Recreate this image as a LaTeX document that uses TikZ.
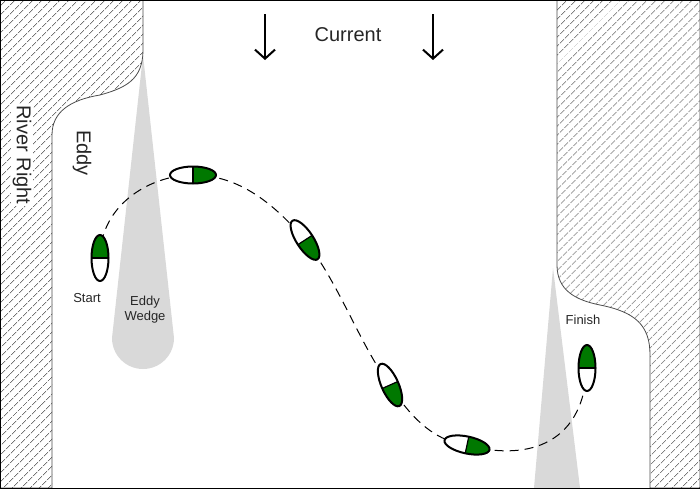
\documentclass[tikz,border=0pt]{standalone}
\usepackage{fontspec}
\setmainfont{Liberation Sans}
\usetikzlibrary{patterns.meta,arrows.meta}
\definecolor{boatgreen}{RGB}{0,120,0}
\newcommand\myboat[2]{%
  \begin{scope}[shift={(#1)},rotate=#2]
    \fill[white] (0,0) ellipse[x radius=23,y radius=8.5];
    \begin{scope}
      \clip (0,0) ellipse[x radius=23,y radius=8.5];
      \fill[boatgreen] (0,-10) rectangle (24,10);
    \end{scope}
    \draw[line width=2pt] (0,0) ellipse[x radius=23,y radius=8.5];
    \draw[line width=1.2pt] (0,-8.5) -- (0,8.5);
  \end{scope}}
\begin{document}
\begin{tikzpicture}[x=1pt,y=-1pt,
  bank/.style={draw=black!70,line width=0.8pt,pattern={Lines[angle=45,distance=6.5pt,line width=0.7pt]},pattern color=black!85},
  wedge/.style={fill=black!15,draw=none},
  lbl/.style={font=\fontsize{13}{15}\selectfont,text=black!85},
  path/.style={dash pattern=on 9pt off 6pt,line width=1pt},
  cur/.style={-{Straight Barb[length=9pt,width=20pt]},line width=2pt}]
\useasboundingbox (0,0) rectangle (700,488);
% wedges
\fill[wedge] (143,55) -- (174,338) arc[start angle=0,end angle=180,radius=31] -- cycle;
\fill[wedge] (553,268) -- (580,488) -- (534,488) -- cycle;
% banks
\path[bank] (0,0) -- (143,0) -- (143,50) .. controls (143,80) and (125,88) .. (100,95)
  .. controls (70,100) and (52,112) .. (52,135) -- (52,488) -- (0,488) -- cycle;
\path[bank] (700,0) -- (557,0) -- (557,265) .. controls (557,290) and (575,300) .. (600,305)
  .. controls (635,312) and (650,325) .. (650,355) -- (650,488) -- (700,488) -- cycle;
\draw[line width=0.8pt] (0,0) rectangle (700,488);
% labels
\node[fill=white,rotate=-90,inner sep=2pt,font=\fontsize{20}{22}\selectfont,text=black!85] (rr) at (22,155) {River Right};
\node[rotate=-90,font=\fontsize{20}{22}\selectfont,text=black!85] (eddy) at (82,153) {Eddy};
\node[font=\fontsize{20}{22}\selectfont,text=black!85] (cur) at (348,35) {Current};
\coordinate (a1s) at (265,14); \coordinate (a1e) at (265,60);
\coordinate (a2s) at (433,14); \coordinate (a2e) at (433,60);
\draw[cur] (a1s) -- (a1e);
\draw[cur] (a2s) -- (a2e);
\node[lbl] (start) at (87,298) {Start};
\node[lbl,align=center] (ew) at (145,310) {Eddy\\Wedge};
\node[lbl] (fin) at (583,320) {Finish};
% path
\coordinate (b1) at (100,258);
\coordinate (b2) at (193,175);
\coordinate (b3) at (305,240);
\coordinate (b4) at (390,385);
\coordinate (b5) at (467,445);
\coordinate (b6) at (587,368);
\draw[path] (b1) .. controls (100,205) and (150,175) .. (b2)
  .. controls (240,175) and (275,205) .. (b3)
  .. controls (340,285) and (360,345) .. (b4)
  .. controls (415,425) and (440,442) .. (b5)
  .. controls (520,460) and (583,450) .. (b6);
% boats
\myboat{b1}{90}
\myboat{b2}{0}
\myboat{b3}{-57}
\myboat{b4}{-66}
\myboat{b5}{-12}
\myboat{b6}{90}
\end{tikzpicture}
\end{document}
